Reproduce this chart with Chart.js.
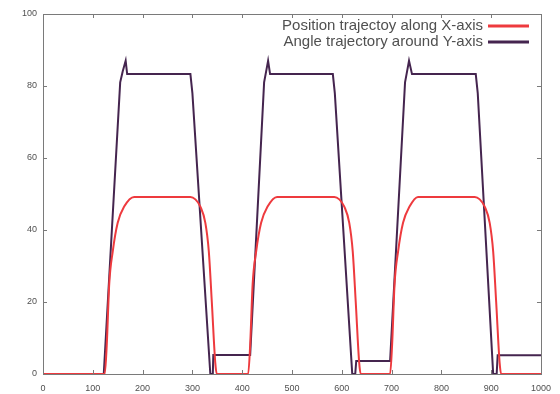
<!DOCTYPE html>
<html>
<head>
<meta charset="utf-8">
<script src="https://cdn.jsdelivr.net/npm/chart.js@4.4.1/dist/chart.umd.min.js"></script>
<style>
  html, body { margin: 0; padding: 0; background: #fff; }
  #chart { display: block; }
</style>
</head>
<body>
<canvas id="chart" width="560" height="394"></canvas>
<script>
const SERIES_LABELS = ["Position trajectoy along X-axis", "Angle trajectory around Y-axis"];

// red curve: position along X
const positionX = [
  0, 124, 128, 133, 140, 150, 163, 183, 296, 306, 316, 326, 333, 339, 346, 349,
  412, 416, 421, 428, 438, 451, 470, 585, 595, 605, 615, 622, 628, 635, 638,
  697, 701, 706, 713, 723, 736, 753, 867, 877, 887, 897, 904, 910, 917, 920, 1000
];
const positionY = [
  0, 0, 8, 25, 34, 42, 46.5, 49.2, 49.2, 48.5, 46.5, 42, 34, 20, 3, 0,
  0, 8, 25, 34, 42, 46.5, 49.2, 49.2, 48.5, 46.5, 42, 34, 20, 3, 0,
  0, 8, 25, 34, 42, 46.5, 49.2, 49.2, 48.5, 46.5, 42, 34, 20, 3, 0, 0
];

// purple curve: angle around Y
const angleX = [
  0, 122, 155, 160, 166, 169, 296, 300, 336, 341, 342,
  416, 444, 448, 452, 456, 582, 586, 621, 627, 629,
  697, 727, 731, 735, 741, 869, 873, 904, 911, 913, 1000
];
const angleY = [
  0, 0, 81, 84, 87, 83.3, 83.3, 78, 0, 0, 5.3,
  5.3, 81, 84, 87, 83.3, 83.3, 78, 0, 0, 3.6,
  3.6, 81, 84, 87, 83.3, 83.3, 78, 0, 0, 5.2, 5.2
];

const X_RANGE = [0, 1000];
const Y_RANGE = [0, 100];
const X_STEP = 100;
const Y_STEP = 20;

const COLORS = { position: "#ee3a3e", angle: "#45254f", frame: "#7a7a7a", text: "#505050" };
const FONT = '"Liberation Sans", Arial, sans-serif';

const toPoints = (xs, ys) => xs.map((x, i) => ({ x, y: ys[i] }));

const framePlugin = {
  id: "frame",
  beforeDraw: (chart) => {
    const { ctx } = chart;
    ctx.save();
    ctx.fillStyle = "#fff";
    ctx.fillRect(0, 0, chart.width, chart.height);
    ctx.restore();
  },
  afterDatasetsDraw: (chart) => {
    const { ctx, chartArea: a, scales } = chart;
    ctx.save();
    ctx.strokeStyle = COLORS.frame;
    ctx.lineWidth = 1;
    ctx.strokeRect(Math.round(a.left) + 0.5, Math.round(a.top) + 0.5,
      Math.round(a.right - a.left), Math.round(a.bottom - a.top));
    const len = 4;
    ctx.beginPath();
    scales.x.ticks.forEach((t) => {
      const px = Math.round(scales.x.getPixelForValue(t.value)) + 0.5;
      ctx.moveTo(px, a.bottom); ctx.lineTo(px, a.bottom - len);
      ctx.moveTo(px, a.top); ctx.lineTo(px, a.top + len);
    });
    scales.y.ticks.forEach((t) => {
      const py = Math.round(scales.y.getPixelForValue(t.value)) + 0.5;
      ctx.moveTo(a.left, py); ctx.lineTo(a.left + len, py);
      ctx.moveTo(a.right, py); ctx.lineTo(a.right - len, py);
    });
    ctx.stroke();
    ctx.restore();
  },
  afterDraw: (chart) => {
    // gnuplot style key: right-aligned text then a line sample
    const { ctx } = chart;
    const textRight = 483;
    const sampleL = 488, sampleR = 529;
    const rows = [26, 42];
    ctx.save();
    ctx.font = `15px ${FONT}`;
    ctx.textAlign = "right";
    ctx.textBaseline = "middle";
    chart.data.datasets.forEach((ds, i) => {
      ctx.fillStyle = COLORS.text;
      ctx.fillText(ds.label, textRight, rows[i]);
      ctx.strokeStyle = ds.borderColor;
      ctx.lineWidth = 3;
      ctx.beginPath();
      ctx.moveTo(sampleL, rows[i]);
      ctx.lineTo(sampleR, rows[i]);
      ctx.stroke();
    });
    ctx.restore();
  }
};

const config = {
  type: "line",
  data: {
    datasets: [
      {
        label: SERIES_LABELS[0],
        data: toPoints(positionX, positionY),
        borderColor: COLORS.position,
        borderWidth: 2,
        pointRadius: 0,
        cubicInterpolationMode: "monotone",
        fill: false
      },
      {
        label: SERIES_LABELS[1],
        data: toPoints(angleX, angleY),
        borderColor: COLORS.angle,
        borderWidth: 2,
        pointRadius: 0,
        tension: 0,
        fill: false
      }
    ]
  },
  options: {
    responsive: false,
    animation: false,
    layout: { padding: { top: 14, right: 15, left: 0, bottom: 0 } },
    plugins: { legend: { display: false }, tooltip: { enabled: false } },
    scales: {
      x: {
        type: "linear",
        min: X_RANGE[0],
        max: X_RANGE[1],
        afterFit: (s) => { s.height = 20; },
        grid: { display: false, drawTicks: false },
        border: { display: false },
        ticks: {
          stepSize: X_STEP,
          padding: 9,
          maxRotation: 0,
          color: COLORS.text,
          font: { family: FONT, size: 9 },
          callback: (value) => String(value)
        }
      },
      y: {
        min: Y_RANGE[0],
        max: Y_RANGE[1],
        afterFit: (s) => { s.width = 43; },
        grid: { display: false, drawTicks: false },
        border: { display: false },
        ticks: {
          stepSize: Y_STEP,
          padding: 6,
          color: COLORS.text,
          font: { family: FONT, size: 9 },
          callback: (value) => String(value)
        }
      }
    }
  },
  plugins: [framePlugin]
};

new Chart(document.getElementById("chart").getContext("2d"), config);
</script>
</body>
</html>
